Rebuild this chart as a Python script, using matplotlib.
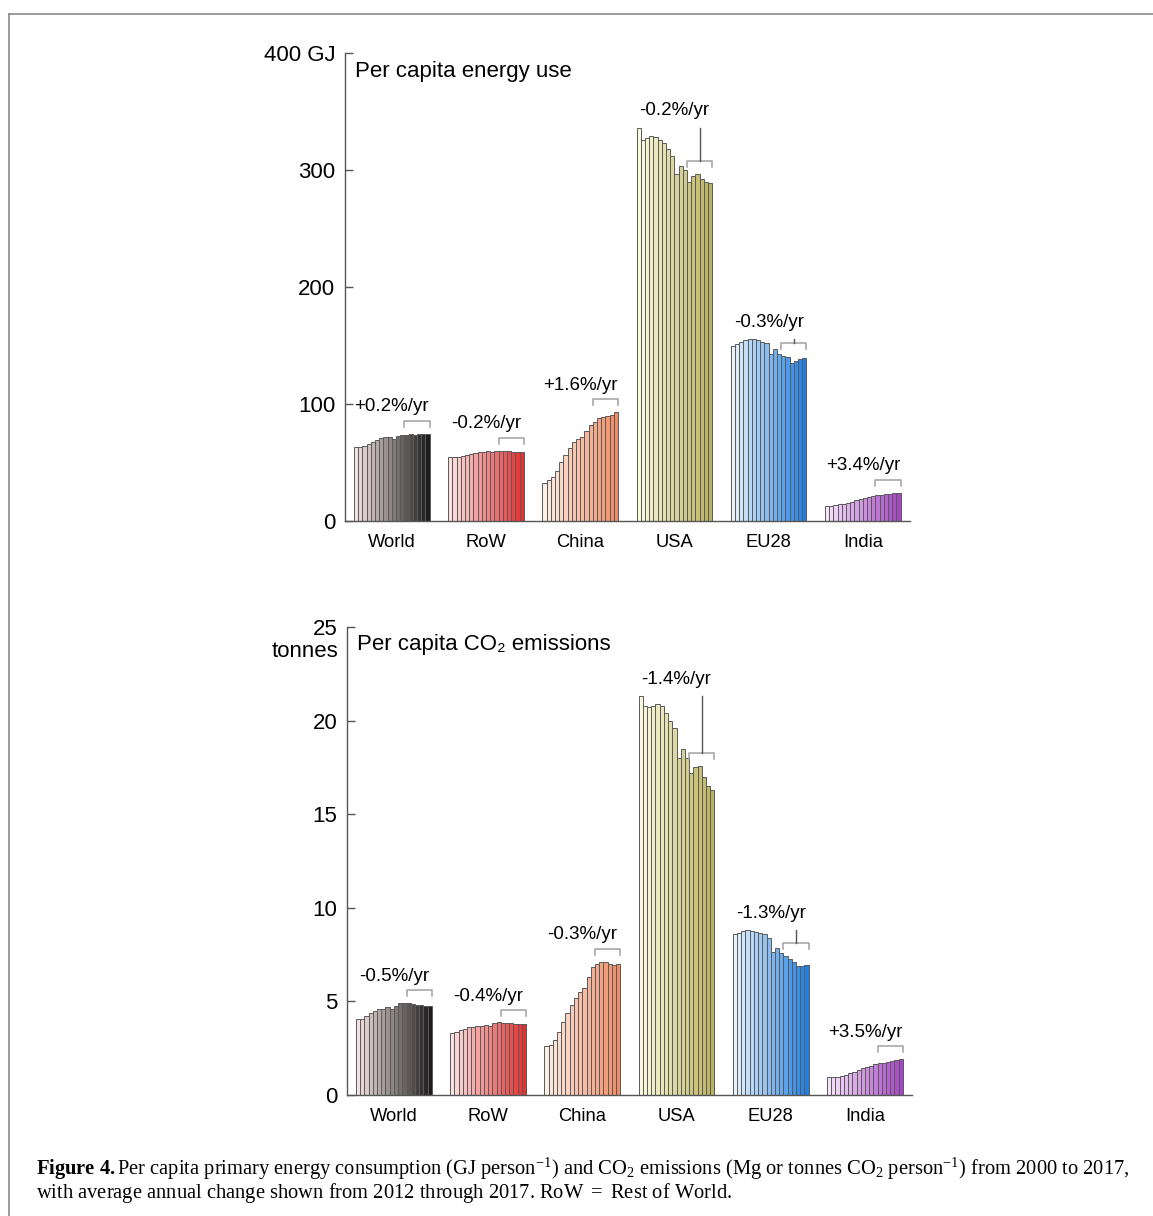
import matplotlib.pyplot as plt
import matplotlib.colors as mcolors
from matplotlib.lines import Line2D
import numpy as np

plt.rcParams['font.family'] = ['Liberation Sans', 'DejaVu Sans']
plt.rcParams['mathtext.fontset'] = 'custom'
plt.rcParams['mathtext.rm'] = 'Liberation Serif'
plt.rcParams['mathtext.bf'] = 'Liberation Serif:bold'
plt.rcParams['mathtext.it'] = 'Liberation Serif:italic'

regions = ["World", "RoW", "China", "USA", "EU28", "India"]

# per capita primary energy, GJ, 2000-2017
energy_world = [63.4, 63.4, 64.2, 65.9, 67.9, 69.3, 71.0, 71.6, 71.6, 70.2, 73.0, 73.9, 73.9, 74.4, 73.9, 74.1, 74.1, 74.7]
energy_row = [54.5, 54.5, 54.8, 55.4, 56.3, 57.1, 58.2, 59.1, 58.8, 59.7, 59.1, 60.2, 60.2, 59.7, 59.7, 59.1, 59.4, 59.4]
energy_china = [32.7, 34.7, 37.5, 43.2, 50.3, 56.8, 62.5, 67.6, 69.9, 71.9, 76.7, 82.1, 84.9, 88.1, 89.2, 90.1, 90.9, 92.9]
energy_usa = [336.0, 326.0, 327.0, 329.0, 328.0, 326.0, 323.0, 318.0, 312.0, 296.5, 303.5, 300.0, 290.0, 295.0, 297.0, 292.0, 290.0, 289.0]
energy_eu28 = [149.7, 151.7, 152.6, 154.5, 155.4, 155.4, 155.1, 153.1, 152.3, 142.6, 147.4, 142.6, 141.2, 139.8, 134.9, 136.9, 138.4, 139.2]
energy_india = [12.8, 12.8, 13.4, 14.2, 14.8, 15.6, 16.5, 17.6, 18.5, 19.3, 20.5, 21.3, 21.9, 22.4, 23.0, 23.3, 23.9, 24.1]
energy_rates = ["+0.2%/yr", "-0.2%/yr", "+1.6%/yr", "-0.2%/yr", "-0.3%/yr", "+3.4%/yr"]

# per capita CO2 emissions, tonnes, 2000-2017
co2_world = [4.04, 4.05, 4.21, 4.39, 4.50, 4.59, 4.62, 4.68, 4.59, 4.75, 4.89, 4.89, 4.89, 4.85, 4.82, 4.80, 4.76, 4.76]
co2_row = [3.32, 3.38, 3.47, 3.54, 3.61, 3.64, 3.70, 3.68, 3.72, 3.68, 3.82, 3.88, 3.84, 3.84, 3.82, 3.79, 3.79, 3.79]
co2_china = [2.63, 2.67, 2.93, 3.38, 3.91, 4.36, 4.80, 5.16, 5.51, 5.74, 6.28, 6.84, 7.02, 7.11, 7.09, 7.02, 6.97, 7.02]
co2_usa = [21.3, 20.8, 20.7, 20.8, 20.9, 20.8, 20.4, 20.0, 19.6, 18.0, 18.5, 18.0, 17.2, 17.5, 17.55, 17.0, 16.5, 16.3]
co2_eu28 = [8.62, 8.66, 8.75, 8.80, 8.76, 8.71, 8.68, 8.62, 8.36, 7.64, 7.87, 7.59, 7.43, 7.25, 7.11, 6.88, 6.88, 6.97]
co2_india = [0.98, 0.98, 0.98, 1.01, 1.07, 1.16, 1.24, 1.33, 1.42, 1.51, 1.55, 1.65, 1.69, 1.72, 1.78, 1.83, 1.87, 1.90]
co2_rates = ["-0.5%/yr", "-0.4%/yr", "-0.3%/yr", "-1.4%/yr", "-1.3%/yr", "+3.5%/yr"]

# light -> dark colour for each region
col_start = ["#f4e2e2", "#fbe0e0", "#fdefe6", "#fcfade", "#e8f3fc", "#f6e2fa"]
col_end = ["#1c1c1c", "#e63030", "#f08c64", "#bab25e", "#1e80e6", "#a646c6"]

STRIDE = 22.4
NB = 18
AX_H_PX = 468.0


def gradient(c0, c1, n):
    a = np.array(mcolors.to_rgb(c0))
    b = np.array(mcolors.to_rgb(c1))
    return [tuple(a + (b - a) * t) for t in np.linspace(0, 1, n)]


def draw_panel(ax, series, rates, ymax, yticks, title):
    ppu = AX_H_PX / ymax
    for g, vals in enumerate(series):
        x = g * STRIDE + np.arange(NB)
        ax.bar(x, vals, width=1.0, align='edge', color=gradient(col_start[g], col_end[g], NB),
               edgecolor='#5a5a5a', linewidth=0.7)
        gmax = max(vals)
        by = max(vals[-6:]) + 13 / ppu
        x0 = g * STRIDE + 12
        x1 = g * STRIDE + 18
        ax.plot([x0, x0, x1, x1], [by - 6 / ppu, by, by, by - 6 / ppu], color='#a0a0a0', lw=1.1)
        if gmax > by:
            ax.plot([(x0 + x1) / 2] * 2, [by, gmax], color='#555555', lw=1.0)
        ty = max(by + 14 / ppu, gmax + 17 / ppu)
        ax.text(g * STRIDE + 9, ty, rates[g], ha='center', va='center', fontsize=13.5)

    ax.set_xlim(-2.14, 132.2)
    ax.set_ylim(0, ymax)
    ax.set_xticks([g * STRIDE + 9 for g in range(len(regions))])
    ax.set_xticklabels(regions, fontsize=13.2)
    ax.tick_params(axis='x', length=0, pad=9)
    ax.set_yticks(yticks)
    ax.tick_params(axis='y', direction='in', length=6, width=1, color='#555555', labelsize=16, pad=7)
    for s in ['top', 'right']:
        ax.spines[s].set_visible(False)
    for s in ['left', 'bottom']:
        ax.spines[s].set_color('#555555')
        ax.spines[s].set_linewidth(1)
    ax.text(0.018, 0.9615, title, transform=ax.transAxes, ha='left', va='center', fontsize=16)


fig = plt.figure(figsize=(11.53, 12.16), dpi=100)

ax1 = fig.add_axes([0.2992, 0.5715, 0.490, 0.3849])
draw_panel(ax1, [energy_world, energy_row, energy_china, energy_usa, energy_eu28, energy_india],
           energy_rates, 400, [0, 100, 200, 300, 400], "Per capita energy use")
ax1.set_yticklabels(["0", "100", "200", "300", "400 GJ"])

ax2 = fig.add_axes([0.301, 0.0995, 0.490, 0.3849])
draw_panel(ax2, [co2_world, co2_row, co2_china, co2_usa, co2_eu28, co2_india],
           co2_rates, 25, [0, 5, 10, 15, 20, 25], "Per capita CO₂ emissions")
ax2.text(-0.016, 0.948, "tonnes", transform=ax2.transAxes, ha='right', va='center', fontsize=16)

# frame around the figure (cut at right and bottom)
fx = 9 / 1153
fy = 1 - 14 / 1216
fig.add_artist(Line2D([fx, 1.0], [fy, fy], transform=fig.transFigure, color='#8a8a8a', lw=1.2))
fig.add_artist(Line2D([fx, fx], [0.0, fy], transform=fig.transFigure, color='#8a8a8a', lw=1.2))

cap1 = (r"$\mathbf{Figure\ 4.}$Per capita primary energy consumption (GJ person$^{-1}$) and CO$_2$ "
        r"emissions (Mg or tonnes CO$_2$ person$^{-1}$) from 2000 to 2017,")
cap2 = r"with average annual change shown from 2012 through 2017. RoW $=$ Rest of World."
fig.text(36 / 1153, 1 - 1169 / 1216, cap1, family='Liberation Serif', fontsize=14.8, va='center')
fig.text(36 / 1153, 1 - 1193 / 1216, cap2, family='Liberation Serif', fontsize=14.8, va='center')

fig.savefig("out.png", dpi=100)
